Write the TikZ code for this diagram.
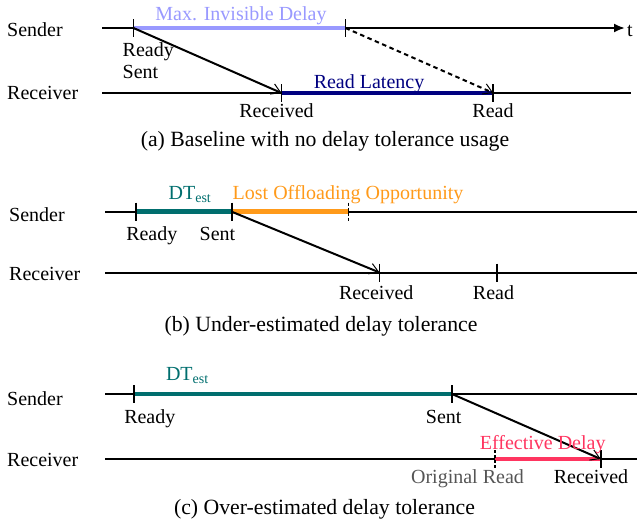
\documentclass[tikz,border=0pt]{standalone}
\usepackage{fontspec}
\setmainfont{Liberation Serif}
\usetikzlibrary{arrows.meta}
\definecolor{lav}{HTML}{9999FF}
\definecolor{navy}{HTML}{000080}
\definecolor{tealc}{HTML}{006E6E}
\definecolor{orng}{HTML}{FF9A1A}
\definecolor{redc}{HTML}{FF3560}
\definecolor{grayc}{HTML}{555555}
\begin{document}
\begin{tikzpicture}[x=1pt,y=-1pt,
  lbl/.style={font=\fontsize{20}{24}\selectfont, inner sep=0pt, anchor=base},
  capt/.style={font=\fontsize{21.75}{26}\selectfont, inner sep=0pt, anchor=base},
  axis/.style={line width=2pt},
  seg/.style={line width=4.5pt},
  tickm/.style={line width=1.8pt},
  dtick/.style={line width=1.8pt, dash pattern=on 3pt off 2pt},
  msg/.style={line width=2pt, -{Straight Barb[length=9pt,width=11pt,line width=1pt]}},
]
\useasboundingbox (0,0) rectangle (637,525);

% ---------------- panel (a)
\coordinate (aS0) at (102,28);  \coordinate (aSend) at (625,28);
\coordinate (aR0) at (102,93);  \coordinate (aRend) at (631,93);
\coordinate (aReady) at (133.5,28); \coordinate (aMax) at (345.5,28);
\coordinate (aRecv) at (281.5,93);  \coordinate (aRead) at (493.3,93);
\draw[axis, -{Latex[length=11pt,width=9pt]}] (aS0) -- (aSend);
\draw[axis] (aR0) -- (aRend);
\draw[seg, lav] (aReady) -- (aMax);
\draw[seg, navy] (aRecv) -- (aRead);
\foreach \p in {aReady,aMax,aRecv,aRead}
  \draw[tickm] ([yshift=9pt]\p) -- ([yshift=-9pt]\p);
\draw[msg] (aReady) -- (aRecv);
\draw[msg, dash pattern=on 4.5pt off 3.5pt] (aMax) -- (aRead);
\node[lbl, anchor=base west] (aSl) at (7,36) {Sender};
\node[lbl, anchor=base west] (aRl) at (7,99.5) {Receiver};
\node[lbl, anchor=base west] (at) at (627,36) {t};
\node[lbl, lav] (aMaxl) at (241,20) {Max. Invisible Delay};
\node[lbl, anchor=base west] (aReadyl) at (122.5,56.5) {Ready};
\node[lbl, anchor=base west] (aSentl) at (122.5,78.5) {Sent};
\node[lbl, navy] (aLat) at (369,88.3) {Read Latency};
\node[lbl] (aRecvl) at (276.5,117) {Received};
\node[lbl] (aReadl) at (493,117) {Read};
\node[capt] (acap) at (325,146.7) {(a) Baseline with no delay tolerance usage};

% ---------------- panel (b)
\coordinate (bS0) at (105,211.7); \coordinate (bSend) at (637,211.7);
\coordinate (bR0) at (105,272.5); \coordinate (bRend) at (637,272.5);
\coordinate (bReady) at (136,211.7); \coordinate (bSent) at (231.7,211.7);
\coordinate (bLost) at (348.4,211.7);
\coordinate (bRecv) at (379.5,272.5); \coordinate (bRead) at (496.7,272.5);
\draw[axis] (bS0) -- (bSend);
\draw[axis] (bR0) -- (bRend);
\draw[seg, tealc] (bReady) -- (bSent);
\draw[seg, orng] (bSent) -- (bLost);
\foreach \p in {bReady,bSent,bRecv,bRead}
  \draw[tickm] ([yshift=9pt]\p) -- ([yshift=-9pt]\p);
\draw[dtick] ([yshift=9pt]bLost) -- ([yshift=-9pt]bLost);
\draw[msg] (bSent) -- (bRecv);
\node[lbl, anchor=base west] (bSl) at (9,221.7) {Sender};
\node[lbl, anchor=base west] (bRl) at (9,280) {Receiver};
\node[lbl, tealc] (bDT) at (190,199) {DT\textsubscript{est}};
\node[lbl, orng, anchor=base west] (bLostl) at (232.5,199) {Lost Offloading Opportunity};
\node[lbl] (bReadyl) at (151.8,240) {Ready};
\node[lbl] (bSentl) at (217.5,240) {Sent};
\node[lbl] (bRecvl) at (376.2,299.5) {Received};
\node[lbl] (bReadl) at (493.5,299.5) {Read};
\node[capt] (bcap) at (321,331) {(b) Under-estimated delay tolerance};

% ---------------- panel (c)
\coordinate (cS0) at (105,394); \coordinate (cSend) at (637,394);
\coordinate (cR0) at (105,459); \coordinate (cRend) at (637,459);
\coordinate (cReady) at (134.1,394); \coordinate (cSent) at (452,394);
\coordinate (cOrig) at (495.1,459); \coordinate (cRecv) at (600.8,459);
\draw[axis] (cS0) -- (cSend);
\draw[axis] (cR0) -- (cRend);
\draw[seg, tealc] (cReady) -- (cSent);
\draw[seg, redc] (cOrig) -- (cRecv);
\foreach \p in {cReady,cSent,cRecv}
  \draw[tickm] ([yshift=9pt]\p) -- ([yshift=-9pt]\p);
\draw[dtick] ([yshift=9pt]cOrig) -- ([yshift=-9pt]cOrig);
\draw[msg] (cSent) -- (cRecv);
\node[lbl, anchor=base west] (cSl) at (7,405) {Sender};
\node[lbl, anchor=base west] (cRl) at (7,466) {Receiver};
\node[lbl, tealc] (cDT) at (187.4,380) {DT\textsubscript{est}};
\node[lbl] (cReadyl) at (149.8,423) {Ready};
\node[lbl] (cSentl) at (443.7,423) {Sent};
\node[lbl, redc] (cEff) at (542.7,449.5) {Effective Delay};
\node[lbl, grayc] (cOrigl) at (467.5,483) {Original Read};
\node[lbl] (cRecvl) at (591,483) {Received};
\node[capt] (ccap) at (324.5,514) {(c) Over-estimated delay tolerance};
\end{tikzpicture}
\end{document}
